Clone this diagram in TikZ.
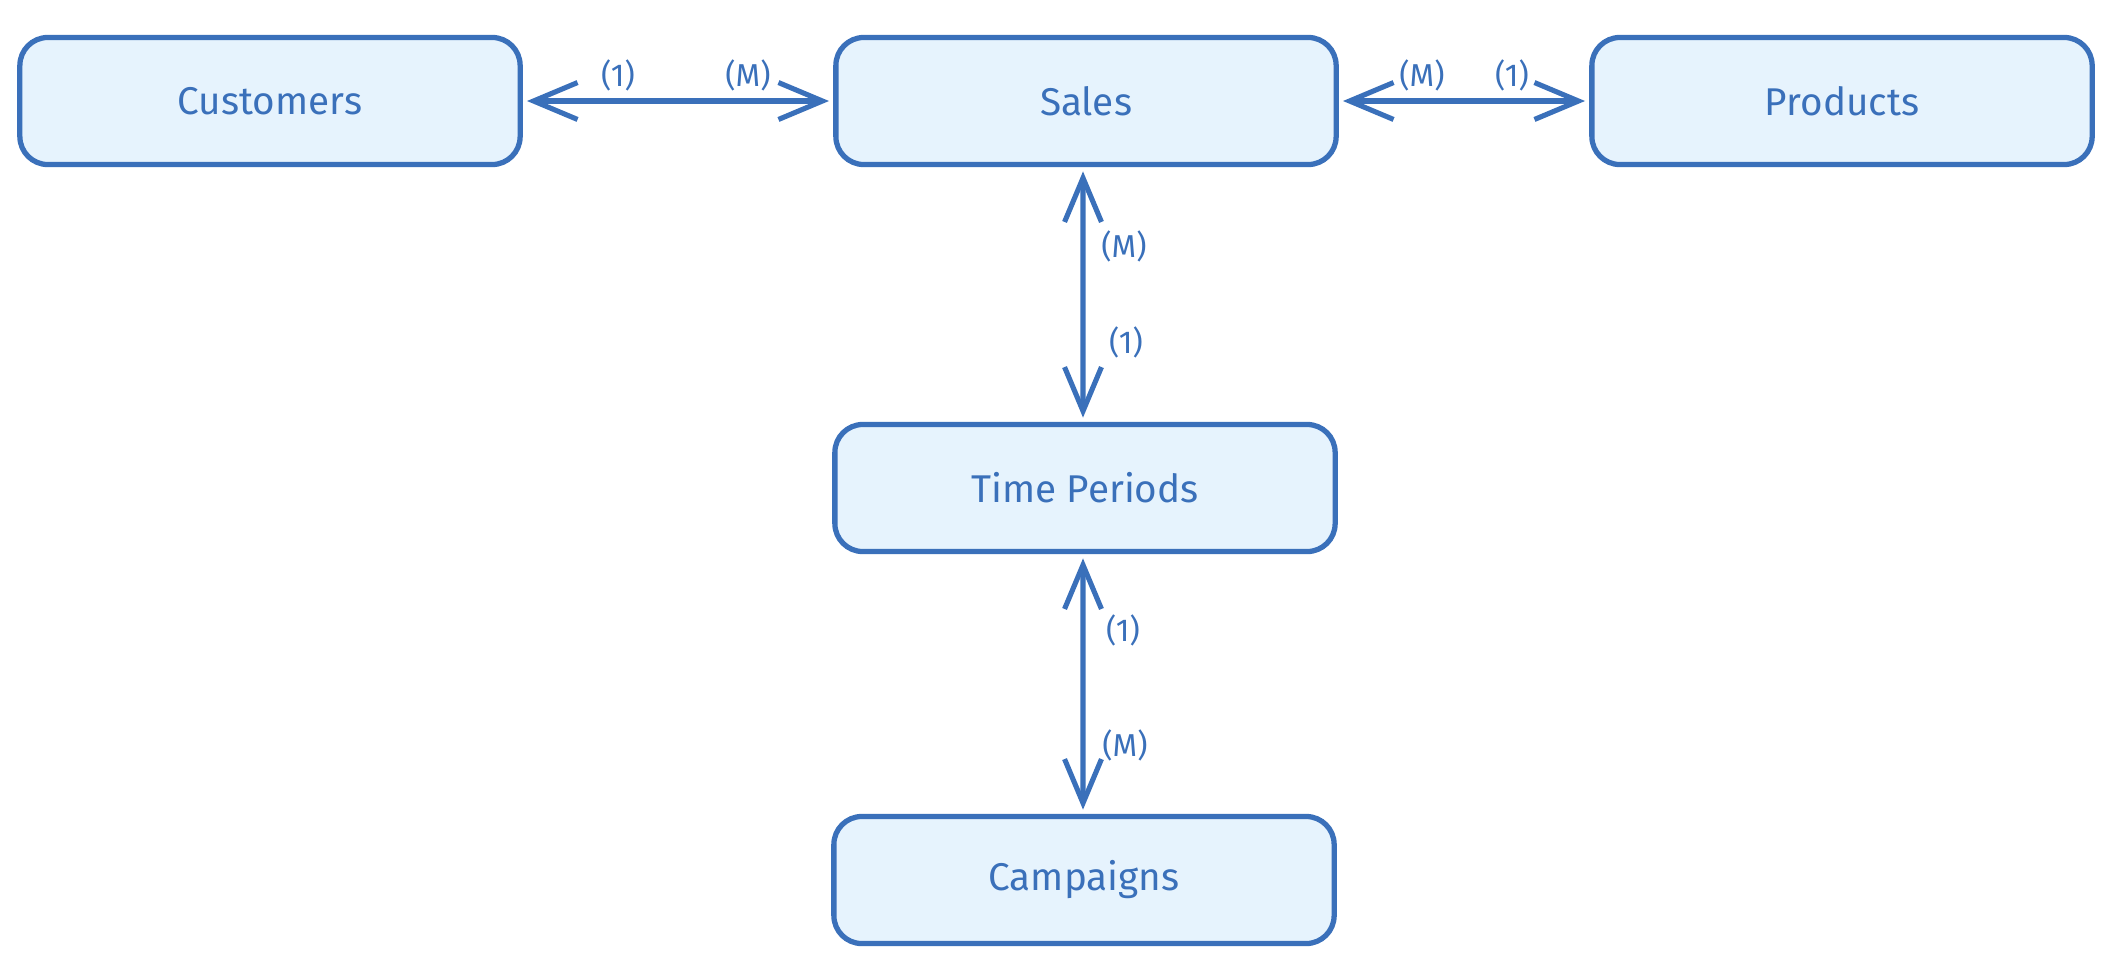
\documentclass[tikz,border=0pt]{standalone}
\usepackage{fontspec}
\setmainfont{Fira Sans}
\usetikzlibrary{arrows.meta}
\definecolor{strokeblue}{HTML}{3A70BA}
\definecolor{fillblue}{HTML}{E6F3FD}
\tikzset{
  entity/.style={draw=strokeblue, fill=fillblue, line width=1.5pt, rounded corners=0.28cm,
    minimum width=5.0cm, minimum height=1.27cm, text=strokeblue,
    font=\fontsize{11pt}{13pt}\selectfont, inner sep=0pt},
  conn/.style={draw=strokeblue, line width=1.45pt,
    {Straight Barb[length=12.5pt,width=10.5pt,line width=1.45pt]}-{Straight Barb[length=12.5pt,width=10.5pt,line width=1.45pt]},
    shorten <=1.2pt, shorten >=1.2pt},
  card/.style={text=strokeblue, font=\fontsize{9pt}{11pt}\selectfont, inner sep=0pt}
}
\begin{document}
\begin{tikzpicture}[x=0.01cm,y=-0.01cm]
\useasboundingbox (0,0) rectangle (2116,972);
\node[entity] (cust) at (270,101) {Customers};
\node[entity] (sales) at (1086,101) {Sales};
\node[entity] (prod) at (1842,101) {Products};
\node[entity] (time) at (1085,488) {Time Periods};
\node[entity] (camp) at (1084,880) {Campaigns};
\draw[conn] (cust) -- (sales);
\draw[conn] (sales) -- (prod);
\draw[conn] ([xshift=-0.03cm]sales.south) -- ([xshift=-0.02cm]time.north);
\draw[conn] ([xshift=-0.02cm]time.south) -- ([xshift=-0.01cm]camp.north);
\node[card] (l1) at (618,75) {(1)};
\node[card] (l2) at (748,75) {(M)};
\node[card] (l3) at (1422,75) {(M)};
\node[card] (l4) at (1512,75) {(1)};
\node[card] (l5) at (1124,246) {(M)};
\node[card] (l6) at (1126,342) {(1)};
\node[card] (l7) at (1123,630) {(1)};
\node[card] (l8) at (1125,745) {(M)};
\end{tikzpicture}
\end{document}
